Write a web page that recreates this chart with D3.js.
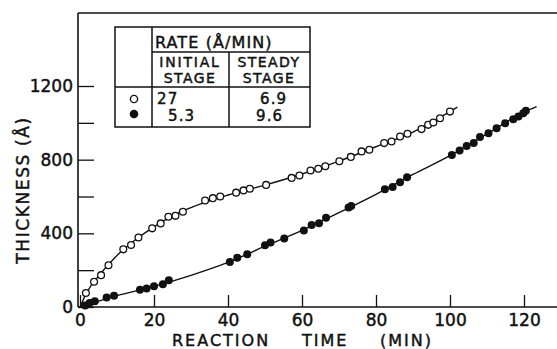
<!DOCTYPE html>
<html>
<head>
<meta charset="utf-8">
<script src="https://cdn.jsdelivr.net/npm/d3@7"></script>
<style>
body { margin: 0; background: #fff; }
text { font-family: "DejaVu Sans", sans-serif; fill: #111; stroke: #111; stroke-width: 0.45px; }
</style>
</head>
<body>
<div id="chart"></div>
<script>
const svgWidth = 557, svgHeight = 349;

// open circles: initial stage 27, steady stage 6.9 (A/min)
const openTime = [1.6, 3.8, 5.7, 7.7, 11.7, 13.8, 15.8, 19.5, 21.8, 23.9, 25.8, 27.8,
  33.8, 35.9, 37.9, 42.2, 44.2, 45.9, 50.3, 57.2, 59.3, 62.3, 64.4, 66.3, 70.1, 73.2,
  76.1, 78.2, 82.2, 84.2, 86.5, 88.5, 92.3, 94.1, 95.5, 97.3, 100];
const openThick = [76, 137, 173, 227, 313, 337, 377, 427, 454, 490, 495, 517,
  578, 591, 600, 621, 633, 642, 663, 701, 714, 741, 751, 764, 791, 815,
  845, 854, 890, 899, 926, 941, 966, 989, 1002, 1025, 1061];

// filled circles: initial stage 5.3, steady stage 9.6 (A/min)
const fillTime = [1.4, 2.6, 4, 7.2, 9.2, 16.2, 18, 20, 22.4, 24, 40.5, 42.5, 45.2,
  50, 51.5, 55.2, 60.5, 62.6, 64.6, 66.5, 72.6, 73.3, 82.4, 84.5, 86.5, 88.4,
  100.5, 102.6, 104.5, 106.4, 108.1, 110.4, 112.6, 114.9, 117.1, 118.5, 119.8, 120.5];
const fillThick = [8, 22, 31, 52, 61, 94, 101, 112, 124, 145, 245, 268, 286,
  335, 350, 372, 415, 445, 455, 485, 540, 548, 640, 652, 677, 705,
  825, 850, 874, 890, 923, 944, 971, 998, 1020, 1034, 1052, 1065];

// drawn-in smooth curves
const openFitTime = [0, 2, 5, 10, 15, 20, 25, 30, 40, 50, 60, 70, 80, 90, 102];
const openFitThick = [0, 85, 168, 280, 365, 435, 495, 540, 608, 662, 722, 792, 870, 950, 1085];
const fillFitTime = [0, 10, 20, 30, 40, 50, 60, 70, 80, 90, 100, 110, 120, 123.4];
const fillFitThick = [0, 62, 112, 172, 242, 330, 416, 512, 612, 720, 822, 940, 1058, 1088];

const xTicks = [0, 20, 40, 60, 80, 100, 120];
const yTicks = [200, 400, 600, 800, 1000, 1200];
const yLabels = [400, 800, 1200];

const svg = d3.select("#chart").append("svg")
  .attr("width", svgWidth)
  .attr("height", svgHeight)
  .style("background", "#fff");

const x = d3.scaleLinear().domain([0, 120]).range([80, 524]);
const y = d3.scaleLinear().domain([0, 1200]).range([307, 86]);

// frame: top line and axes
svg.append("line")
  .attr("x1", 78).attr("x2", svgWidth)
  .attr("y1", 13).attr("y2", 13)
  .attr("stroke", "#111").attr("stroke-width", 1.6);

const xAxis = svg.append("g")
  .attr("transform", `translate(0, ${y(0)})`)
  .call(d3.axisBottom(x)
    .tickValues(xTicks)
    .tickSizeInner(-12)
    .tickSizeOuter(0)
    .tickPadding(7));
xAxis.select(".domain").remove();
xAxis.append("line")
  .attr("x1", 78).attr("x2", svgWidth)
  .attr("stroke", "#111").attr("stroke-width", 1.6);

const yAxis = svg.append("g")
  .attr("transform", `translate(78, 0)`)
  .call(d3.axisLeft(y)
    .tickValues([0].concat(yTicks))
    .tickSizeInner(-16)
    .tickSizeOuter(0)
    .tickPadding(5)
    .tickFormat(d => (d === 0 || yLabels.includes(d)) ? d : ""));
yAxis.select(".domain").remove();
yAxis.append("line")
  .attr("y1", 13).attr("y2", y(0))
  .attr("stroke", "#111").attr("stroke-width", 1.6);

svg.selectAll(".tick line").attr("stroke", "#111").attr("stroke-width", 1.3);
svg.selectAll(".tick text")
  .attr("font-size", 17)
  .attr("font-family", "DejaVu Sans")
  .attr("fill", "#111");

// axis titles
svg.append("text").attr("x", 172).attr("y", 345.5)
  .attr("font-size", 16).attr("letter-spacing", 2).text("REACTION");
svg.append("text").attr("x", 302).attr("y", 345.5)
  .attr("font-size", 16).attr("letter-spacing", 2).text("TIME");
svg.append("text").attr("x", 380).attr("y", 345.5)
  .attr("font-size", 16).attr("letter-spacing", 2).text("(MIN)");

svg.append("text")
  .attr("transform", "translate(29, 190) rotate(-90)")
  .attr("text-anchor", "middle")
  .attr("font-size", 17).attr("letter-spacing", 1.6)
  .text("THICKNESS  (Å)");

// curves
const line = d3.line()
  .x(d => x(d[0]))
  .y(d => y(d[1]))
  .curve(d3.curveMonotoneX);

svg.append("path")
  .datum(d3.zip(openFitTime, openFitThick))
  .attr("d", line)
  .attr("fill", "none").attr("stroke", "#111").attr("stroke-width", 1.4);
svg.append("path")
  .datum(d3.zip(fillFitTime, fillFitThick))
  .attr("d", line)
  .attr("fill", "none").attr("stroke", "#111").attr("stroke-width", 1.4);

svg.append("g").selectAll("circle")
  .data(d3.zip(openTime, openThick))
  .enter().append("circle")
  .attr("cx", d => x(d[0]))
  .attr("cy", d => y(d[1]))
  .attr("r", 3.4)
  .attr("fill", "#fff").attr("stroke", "#111").attr("stroke-width", 1.3);

svg.append("g").selectAll("circle")
  .data(d3.zip(fillTime, fillThick))
  .enter().append("circle")
  .attr("cx", d => x(d[0]))
  .attr("cy", d => y(d[1]))
  .attr("r", 4)
  .attr("fill", "#111");

// rate table
const tbl = svg.append("g");
const tl = (x1, y1, x2, y2) => tbl.append("line")
  .attr("x1", x1).attr("y1", y1).attr("x2", x2).attr("y2", y2)
  .attr("stroke", "#111").attr("stroke-width", 1.5);
tbl.append("rect")
  .attr("x", 115).attr("y", 27).attr("width", 195).attr("height", 100)
  .attr("fill", "#fff").attr("stroke", "#111").attr("stroke-width", 1.5);
tl(152, 27, 152, 127);
tl(152, 52, 310, 52);
tl(115, 87, 310, 87);
tl(229, 52, 229, 127);

const tt = (tx, ty, s, anchor, fs, ls) => tbl.append("text")
  .attr("x", tx).attr("y", ty)
  .attr("text-anchor", anchor || "start")
  .attr("font-size", fs || 16).attr("letter-spacing", ls || 1.1)
  .text(s);
tt(155, 48, "RATE (Å/MIN)");
tt(190, 67, "INITIAL", "middle", 14, 1.8);
tt(190, 83, "STAGE", "middle", 14, 1.4);
tt(269, 67, "STEADY", "middle", 14, 1.4);
tt(269, 83, "STAGE", "middle", 14, 1.4);
tt(157, 104, "27", "start", 15);
tt(168, 121, "5.3", "start", 15);
tt(260, 104, "6.9", "start", 15);
tt(256, 121, "9.6", "start", 15);

tbl.append("circle").attr("cx", 134).attr("cy", 99).attr("r", 3.6)
  .attr("fill", "#fff").attr("stroke", "#111").attr("stroke-width", 1.4);
tbl.append("circle").attr("cx", 134).attr("cy", 114).attr("r", 4.3)
  .attr("fill", "#111");
</script>
</body>
</html>
